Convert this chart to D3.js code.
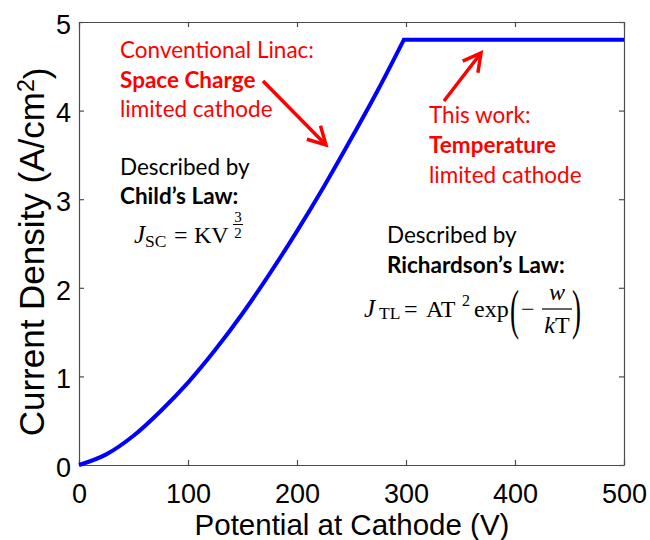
<!DOCTYPE html>
<html>
<head>
<meta charset="utf-8">
<script src="https://cdn.jsdelivr.net/npm/d3@7"></script>
<style>
  body { margin: 0; background: #fff; }
  text { font-kerning: normal; }
</style>
</head>
<body>
<svg id="chart" width="650" height="540"></svg>
<script>
// Emission current density vs. cathode potential
const voltage = [0, 25, 50, 75, 100, 125, 150, 175, 200, 225, 250, 275, 298];
const density = [0, 0.12, 0.33, 0.61, 0.93, 1.30, 1.71, 2.16, 2.64, 3.15, 3.69, 4.25, 4.80];
const plateauVoltage = [298, 500];
const plateauDensity = [4.80, 4.80];
const xTicks = [0, 100, 200, 300, 400, 500];
const yTicks = [0, 1, 2, 3, 4, 5];

const svg = d3.select("#chart");
const m = { left: 79, right: 624, top: 22, bottom: 465 };

const x = d3.scaleLinear().domain([0, 500]).range([m.left, m.right]);
const y = d3.scaleLinear().domain([0, 5]).range([m.bottom, m.top]);

const axisColor = "#4d4d4d";
const numFont = "'Liberation Sans', Arial, sans-serif";
const fmt = d3.format("d");

// axes: inward ticks on all four sides, labels on bottom and left
const axisBottomG = svg.append("g").attr("transform", `translate(0,${m.bottom})`)
  .call(d3.axisBottom(x).tickValues(xTicks).tickFormat(fmt).tickSizeInner(-5).tickSizeOuter(0).tickPadding(19));
const axisLeftG = svg.append("g").attr("transform", `translate(${m.left},0)`)
  .call(d3.axisLeft(y).tickValues(yTicks).tickFormat(fmt).tickSizeInner(-5).tickSizeOuter(0).tickPadding(8));
const axisTopG = svg.append("g").attr("transform", `translate(0,${m.top})`)
  .call(d3.axisTop(x).tickValues(xTicks).tickSizeInner(-5).tickSizeOuter(0).tickFormat(""));
const axisRightG = svg.append("g").attr("transform", `translate(${m.right},0)`)
  .call(d3.axisRight(y).tickValues(yTicks).tickSizeInner(-5).tickSizeOuter(0).tickFormat(""));

[axisBottomG, axisLeftG, axisTopG, axisRightG].forEach(g => {
  g.select(".domain").attr("stroke", axisColor).attr("stroke-width", 1.2);
  g.selectAll(".tick line").attr("stroke", axisColor).attr("stroke-width", 1.2);
  g.selectAll(".tick text").attr("fill", "#000")
    .style("font-family", numFont).style("font-size", "27px");
});
axisLeftG.selectAll(".tick text").attr("dy", "0.42em");

// axis titles
svg.append("text")
  .attr("x", 352).attr("y", 535)
  .attr("text-anchor", "middle")
  .style("font-family", numFont).style("font-size", "29.5px")
  .text("Potential at Cathode (V)");

const yTitle = svg.append("text")
  .attr("transform", `translate(44,252) rotate(-90)`)
  .attr("text-anchor", "middle")
  .style("font-family", numFont).style("font-size", "35px");
yTitle.append("tspan").text("Current Density (A/cm");
yTitle.append("tspan").attr("dy", "-0.45em").style("font-size", "23px").text("2");
yTitle.append("tspan").attr("dy", "0.45em").text(")");

// emission curve: space-charge rise joined to the temperature-limited plateau
const rise = d3.line().x(d => x(d[0])).y(d => y(d[1])).curve(d3.curveMonotoneX);
const risePts = voltage.map((v, i) => [v, density[i]]);
const flatPts = plateauVoltage.map((v, i) => [v, plateauDensity[i]]);
const pathD = rise(risePts) + flatPts.slice(1).map(p => `L${x(p[0])},${y(p[1])}`).join("");
svg.append("path")
  .attr("d", pathD)
  .attr("fill", "none")
  .attr("stroke", "#0000ff")
  .attr("stroke-width", 4)
  .attr("stroke-linejoin", "miter");

// annotations
const noteFont = "Lato, 'Open Sans', sans-serif";
function note(lines, x0, y0, color, step) {
  const t = svg.append("text").style("font-family", noteFont).style("font-size", "22.5px").attr("fill", color);
  lines.forEach((ln, i) => {
    t.append("tspan").attr("x", x0).attr("y", y0 + i * step)
      .style("font-weight", ln.bold ? 700 : 400).text(ln.text);
  });
}
note([{ text: "Conventional Linac:" }, { text: "Space Charge", bold: true }, { text: "limited cathode" }],
  120, 58, "#ff0000", 29.5);
note([{ text: "This work:" }, { text: "Temperature", bold: true }, { text: "limited cathode" }],
  429, 123, "#ff0000", 30);
note([{ text: "Described by" }, { text: "Child\u2019s Law:", bold: true }], 120, 175, "#000", 29);
note([{ text: "Described by" }, { text: "Richardson\u2019s Law:", bold: true }], 387, 243, "#000", 30);

// arrows
function arrow(x1, y1, x2, y2) {
  const a = Math.atan2(y2 - y1, x2 - x1), L = 20, spread = 0.5;
  svg.append("line").attr("x1", x1).attr("y1", y1).attr("x2", x2).attr("y2", y2)
    .attr("stroke", "#ff0000").attr("stroke-width", 3.5);
  const p1 = [x2 - L * Math.cos(a - spread), y2 - L * Math.sin(a - spread)];
  const p2 = [x2 - L * Math.cos(a + spread), y2 - L * Math.sin(a + spread)];
  svg.append("path").attr("d", `M${p1}L${x2},${y2}L${p2}`)
    .attr("fill", "none").attr("stroke", "#ff0000").attr("stroke-width", 3.5)
    .attr("stroke-linejoin", "miter");
}
arrow(263, 81, 326, 145);
arrow(444, 101, 481, 53);

// equations
const mathFont = "'Liberation Serif', 'DejaVu Serif', serif";
function mtext(str, x0, y0, size, opts = {}) {
  return svg.append("text").attr("x", x0).attr("y", y0)
    .attr("text-anchor", opts.anchor || "start")
    .style("font-family", mathFont).style("font-size", size + "px")
    .style("font-style", opts.italic ? "italic" : "normal")
    .attr("fill", "#000").text(str);
}
// Child's law
mtext("J", 134, 243, 25, { italic: true });
mtext("SC", 145, 247, 17.5);
mtext("=", 174, 243, 24);
mtext("KV", 194, 243, 24);
mtext("3", 238, 222, 15, { anchor: "middle" });
svg.append("line").attr("x1", 233).attr("x2", 243).attr("y1", 224.5).attr("y2", 224.5)
  .attr("stroke", "#000").attr("stroke-width", 1);
mtext("2", 238, 238, 15, { anchor: "middle" });

// Richardson's law
mtext("J", 364, 317, 25, { italic: true });
mtext("TL", 379, 319, 17.5);
mtext("=", 404, 317, 24);
mtext("AT", 426, 317, 24);
mtext("2", 462, 306, 16);
mtext("exp", 474, 317, 24);
svg.append("text").attr("transform", "translate(510,328) scale(1,2)")
  .style("font-family", mathFont).style("font-size", "27px").text("(");
mtext("\u2212", 521, 317, 24);
mtext("w", 557, 300, 24, { italic: true, anchor: "middle" });
svg.append("line").attr("x1", 542).attr("x2", 572).attr("y1", 309).attr("y2", 309)
  .attr("stroke", "#000").attr("stroke-width", 1.2);
const kT = svg.append("text").attr("x", 557).attr("y", 333).attr("text-anchor", "middle")
  .style("font-family", mathFont).style("font-size", "24px");
kT.append("tspan").style("font-style", "italic").text("k");
kT.append("tspan").text("T");
svg.append("text").attr("transform", "translate(572,328) scale(1,2)")
  .style("font-family", mathFont).style("font-size", "27px").text(")");
</script>
</body>
</html>
